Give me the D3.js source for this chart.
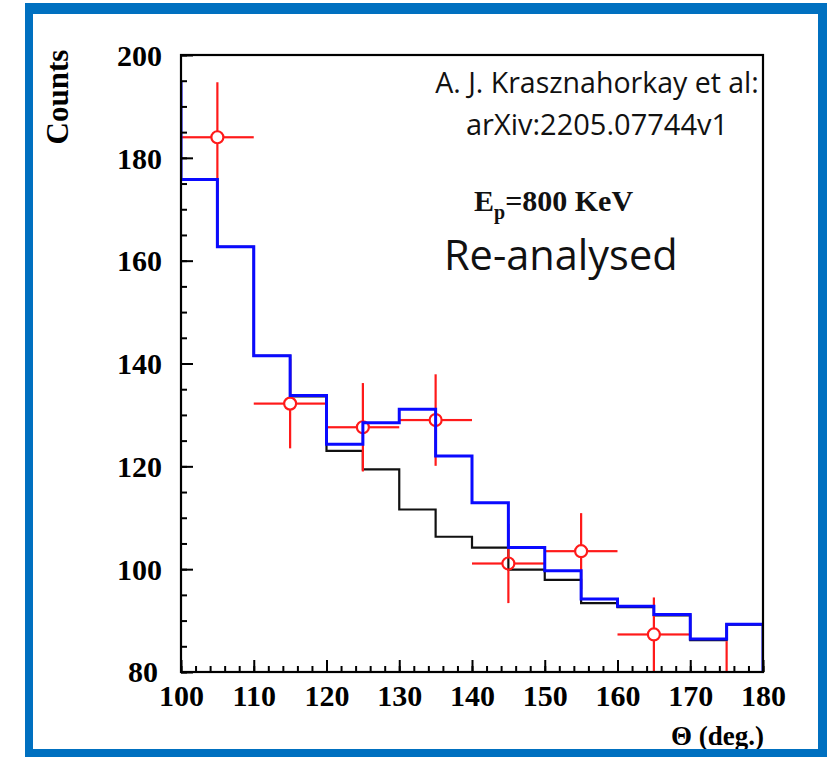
<!DOCTYPE html>
<html>
<head>
<meta charset="utf-8">
<script src="https://cdn.jsdelivr.net/npm/d3@7"></script>
<style>
  html, body { margin: 0; padding: 0; background: #fff; }
  svg { display: block; }
</style>
</head>
<body>
<svg id="chart" width="833" height="759"></svg>
<script>
// ---- data ----
const binEdges = [95, 100, 105, 110, 115, 120, 125, 130, 135, 140, 145, 150, 155, 160, 165, 170, 175, 180];
const blueCounts = [194.5, 175.8, 162.7, 141.5, 133.8, 124.3, 128.5, 131.1, 122.0, 112.9, 104.2, 99.7, 94.2, 92.8, 91.2, 86.4, 89.3];
const blackCounts = [194.5, 175.8, 162.7, 141.5, 133.6, 123.0, 119.4, 111.6, 106.3, 104.2, 99.9, 97.9, 93.4, 92.6, 91.0, 86.2, 89.2];
const dataAngle = [105, 115, 125, 135, 145, 155, 165, 175];
const dataCounts = [184.0, 132.2, 127.6, 129.0, 101.1, 103.5, 87.3, 77.0];
const dataErr = [10.7, 8.7, 8.6, 8.9, 7.7, 7.4, 7.2, 9.0];
const dataXErr = [5, 5, 5, 5, 5, 5, 5, 5];
const xTicks = [100, 110, 120, 130, 140, 150, 160, 170, 180];
const yTicks = [80, 100, 120, 140, 160, 180, 200];

const svg = d3.select("#chart");
const L = 181, R = 763, T = 55, B = 672;
const x = d3.scaleLinear().domain([100, 180]).range([L, R]);
const y = d3.scaleLinear().domain([80, 200]).range([B, T]);
const serif = "'Liberation Serif', 'Times New Roman', serif";
const sans = "'Open Sans', 'Noto Sans', sans-serif";

svg.append("defs").append("clipPath").attr("id", "plotclip")
  .append("rect").attr("x", L).attr("y", T).attr("width", R - L).attr("height", B - T);

const plot = svg.append("g").attr("clip-path", "url(#plotclip)");

function stepPath(counts) {
  const pts = [];
  counts.forEach((c, i) => {
    pts.push([x(binEdges[i]), y(c)]);
    pts.push([x(binEdges[i + 1]), y(c)]);
  });
  pts.push([x(binEdges[binEdges.length - 1]), y(70)]);
  return d3.line()(pts);
}

// black histogram
plot.append("path").attr("d", stepPath(blackCounts))
  .attr("fill", "none").attr("stroke", "#111").attr("stroke-width", 2.2);

// red data points with error bars
const r = 6;
const pts = plot.append("g").attr("stroke", "#ff1a1a").attr("stroke-width", 2.2).attr("fill", "none");
dataAngle.forEach((a, i) => {
  const cx = x(a), cy = y(dataCounts[i]);
  const yTop = y(dataCounts[i] + dataErr[i]), yBot = y(dataCounts[i] - dataErr[i]);
  const xl = x(a - dataXErr[i]), xr = x(a + dataXErr[i]);
  pts.append("line").attr("x1", cx).attr("x2", cx).attr("y1", yTop).attr("y2", cy - r);
  pts.append("line").attr("x1", cx).attr("x2", cx).attr("y1", cy + r).attr("y2", yBot);
  pts.append("line").attr("x1", xl).attr("x2", cx - r).attr("y1", cy).attr("y2", cy);
  pts.append("line").attr("x1", cx + r).attr("x2", xr).attr("y1", cy).attr("y2", cy);
  pts.append("circle").attr("cx", cx).attr("cy", cy).attr("r", r);
});

// blue histogram
plot.append("path").attr("d", stepPath(blueCounts))
  .attr("fill", "none").attr("stroke", "#0a0aff").attr("stroke-width", 3);

// axes (ticks pointing inward)
const axes = svg.append("g");
const xMajor = axes.append("g").attr("transform", `translate(0,${B})`)
  .call(d3.axisBottom(x).tickValues(xTicks).tickSize(-12).tickPadding(10).tickFormat(d3.format("d")));
const xMinor = axes.append("g").attr("transform", `translate(0,${B})`)
  .call(d3.axisBottom(x).tickValues(d3.range(100, 181, 2)).tickSize(-6).tickFormat(""));
const yMajor = axes.append("g").attr("transform", `translate(${L},0)`)
  .call(d3.axisLeft(y).tickValues(yTicks).tickSize(-12).tickPadding(19).tickFormat(d3.format("d")));
const yMinor = axes.append("g").attr("transform", `translate(${L},0)`)
  .call(d3.axisLeft(y).tickValues(d3.range(80, 201, 5)).tickSize(-6).tickFormat(""));

axes.selectAll(".domain").remove();
axes.selectAll(".tick line").attr("stroke", "#000").attr("stroke-width", 2);
axes.selectAll(".tick text")
  .attr("font-family", serif).attr("font-weight", "bold").attr("font-size", 30).attr("fill", "#000");
xMajor.selectAll(".tick text").attr("dy", null).attr("y", 0).attr("dominant-baseline", null)
  .attr("transform", "translate(0,34)");
yMajor.selectAll(".tick text").attr("dy", "0.34em");
yMajor.selectAll(".tick").filter(d => d === 80).select("text")
  .attr("dy", null).attr("y", 9).attr("x", -23);

// frame
svg.append("rect").attr("x", L).attr("y", T).attr("width", R - L).attr("height", B - T)
  .attr("fill", "none").attr("stroke", "#000").attr("stroke-width", 2.2);

// axis titles
svg.append("text").attr("transform", "translate(68,97) rotate(-90)")
  .attr("text-anchor", "middle").attr("font-family", serif).attr("font-weight", "bold")
  .attr("font-size", 31).text("Counts");
svg.append("text").attr("x", 764).attr("y", 745).attr("text-anchor", "end")
  .attr("font-family", serif).attr("font-weight", "bold").attr("font-size", 27).text("Θ (deg.)");

// annotations
svg.append("text").attr("x", 597).attr("y", 93).attr("text-anchor", "middle")
  .attr("font-family", sans).attr("font-size", 28.5).attr("fill", "#111").text("A. J. Krasznahorkay et al:");
svg.append("text").attr("x", 597).attr("y", 135).attr("text-anchor", "middle")
  .attr("font-family", sans).attr("font-size", 29).attr("fill", "#111").text("arXiv:2205.07744v1");
const ep = svg.append("text").attr("x", 474).attr("y", 211)
  .attr("font-family", serif).attr("font-weight", "bold").attr("font-size", 30).attr("fill", "#111");
ep.append("tspan").text("E");
ep.append("tspan").attr("font-size", 20).attr("dy", 8).text("p");
ep.append("tspan").attr("dy", -8).text("=800 KeV");
svg.append("text").attr("x", 444).attr("y", 270)
  .attr("font-family", sans).attr("font-size", 41.5).attr("fill", "#111").text("Re-analysed");

// blue outer border
const border = svg.append("g").attr("fill", "#0070c0");
border.append("rect").attr("x", 25).attr("y", 3).attr("width", 802).attr("height", 11);
border.append("rect").attr("x", 25).attr("y", 3).attr("width", 8).attr("height", 754);
border.append("rect").attr("x", 818).attr("y", 3).attr("width", 9).attr("height", 754);
border.append("rect").attr("x", 25).attr("y", 749).attr("width", 802).attr("height", 8);
</script>
</body>
</html>
